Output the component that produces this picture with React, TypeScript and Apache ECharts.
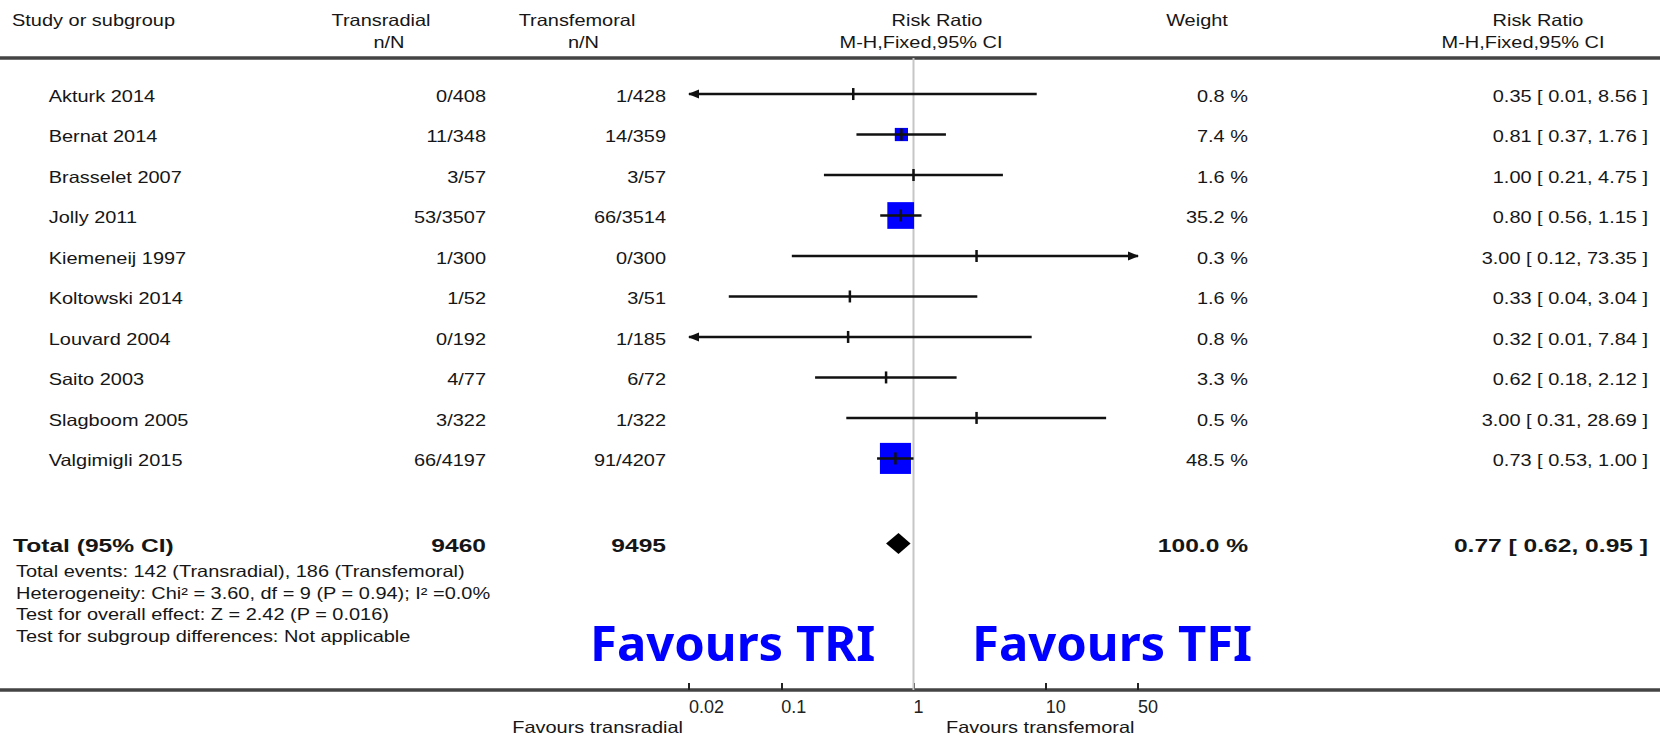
import { useEffect, useRef } from 'react';
import * as echarts from 'echarts';

// Study-level data (risk ratio, M-H fixed effect, 95% CI)
const STUDIES = [
  'Akturk 2014',
  'Bernat 2014',
  'Brasselet 2007',
  'Jolly 2011',
  'Kiemeneij 1997',
  'Koltowski 2014',
  'Louvard 2004',
  'Saito 2003',
  'Slagboom 2005',
  'Valgimigli 2015',
];
const TR_EVENTS = [0, 11, 3, 53, 1, 1, 0, 4, 3, 66];
const TR_TOTAL = [408, 348, 57, 3507, 300, 52, 192, 77, 322, 4197];
const TF_EVENTS = [1, 14, 3, 66, 0, 3, 1, 6, 1, 91];
const TF_TOTAL = [428, 359, 57, 3514, 300, 51, 185, 72, 322, 4207];
const WEIGHTS = [0.8, 7.4, 1.6, 35.2, 0.3, 1.6, 0.8, 3.3, 0.5, 48.5];
const RR = [0.35, 0.81, 1.0, 0.8, 3.0, 0.33, 0.32, 0.62, 3.0, 0.73];
const RR_LOW = [0.01, 0.37, 0.21, 0.56, 0.12, 0.04, 0.01, 0.18, 0.31, 0.53];
const RR_HIGH = [8.56, 1.76, 4.75, 1.15, 73.35, 3.04, 7.84, 2.12, 28.69, 1.0];

// Pooled result
const TOTAL_TR_N = 9460;
const TOTAL_TF_N = 9495;
const TOTAL_WEIGHT = 100.0;
const TOTAL_RR = 0.77;
const TOTAL_LOW = 0.62;
const TOTAL_HIGH = 0.95;

const FOOTNOTES = [
  'Total events: 142 (Transradial), 186 (Transfemoral)',
  'Heterogeneity: Chi² = 3.60, df = 9 (P = 0.94); I² =0.0%',
  'Test for overall effect: Z = 2.42 (P = 0.016)',
  'Test for subgroup differences: Not applicable',
];

// Axis
const AXIS_TICKS = [0.02, 0.1, 1, 10, 50];
const X_MIN = 0.02;
const X_MAX = 50;

// Layout
const W = 1660;
const H = 737;
const GRID_LEFT = 689;
const GRID_RIGHT_X = 1138;
const GRID_TOP = 58;
const GRID_BOTTOM_Y = 690;
const ROW_MIN = -0.89;
const ROW_MAX = 14.72;
const TOTAL_ROW = 11.1;
const BOX_MIN_WEIGHT = 5;

const FONT = '"Liberation Sans", Arial, Helvetica, sans-serif';
const TEXT_COLOR = '#161616';
const BODY_SIZE = 16.5;
const BODY_SX = 1.21;
const BOLD_SIZE = 18.5;
const BOLD_SX = 1.33;

const fmt2 = (v: number) => v.toFixed(2);
const ciText = (rr: number, lo: number, hi: number) =>
  `${fmt2(rr)} [ ${fmt2(lo)}, ${fmt2(hi)} ]`;

function txt(
  text: string,
  x: number,
  y: number,
  align: 'left' | 'right' | 'center',
  bold = false,
): any {
  return {
    type: 'text',
    x,
    y,
    scaleX: bold ? BOLD_SX : BODY_SX,
    silent: true,
    style: {
      text,
      fill: TEXT_COLOR,
      fontFamily: FONT,
      fontSize: bold ? BOLD_SIZE : BODY_SIZE,
      fontWeight: bold ? 'bold' : 'normal',
      align,
      verticalAlign: 'middle',
      textAlign: align,
      textVerticalAlign: 'middle',
    },
  };
}

function bigText(text: string, x: number, y: number): any {
  return {
    type: 'text',
    x,
    y,
    silent: true,
    style: {
      text,
      fill: '#0000ff',
      fontFamily: '"Noto Sans", "Noto Sans CJK KR", sans-serif',
      fontSize: 49,
      fontWeight: 'bold',
      align: 'left',
      verticalAlign: 'middle',
      textAlign: 'left',
      textVerticalAlign: 'middle',
    },
  };
}

export default function App() {
  const ref = useRef<HTMLDivElement>(null);

  useEffect(() => {
    if (!ref.current) return;
    const chart = echarts.init(ref.current, undefined, { renderer: 'svg' });

    const studyData = STUDIES.map((_, i) => [RR[i], RR_LOW[i], RR_HIGH[i], i, WEIGHTS[i]]);

    const option: any = {
      animation: false,
      backgroundColor: '#ffffff',
      grid: {
        left: GRID_LEFT,
        top: GRID_TOP,
        width: GRID_RIGHT_X - GRID_LEFT,
        height: GRID_BOTTOM_Y - GRID_TOP,
        containLabel: false,
      },
      xAxis: {
        type: 'log',
        logBase: 10,
        min: X_MIN,
        max: X_MAX,
        position: 'bottom',
        axisLine: { show: false, onZero: false },
        splitLine: { show: false },
        minorTick: { show: false },
        axisTick: {
          show: true,
          inside: true,
          length: 7,
          customValues: AXIS_TICKS,
          lineStyle: { color: '#222', width: 2 },
        },
        axisLabel: {
          show: true,
          customValues: AXIS_TICKS,
          formatter: (v: number) => String(v),
          align: 'left',
          margin: 8,
          color: '#222',
          fontFamily: FONT,
          fontSize: 18,
        },
      },
      yAxis: {
        type: 'value',
        inverse: true,
        min: ROW_MIN,
        max: ROW_MAX,
        show: false,
        axisLine: { onZero: false },
      },
      series: [
        {
          // line of no effect
          type: 'custom',
          name: 'no-effect',
          z: 1,
          clip: false,
          data: [[1]],
          encode: { x: 0 },
          renderItem: (params: any, api: any) => {
            const cs = params.coordSys;
            const x = api.coord([api.value(0), 0])[0];
            return {
              type: 'line',
              shape: { x1: x, y1: cs.y, x2: x, y2: cs.y + cs.height },
              style: { stroke: '#c6c6c6', lineWidth: 2 },
            };
          },
        },
        {
          type: 'custom',
          name: 'studies',
          z: 3,
          clip: false,
          data: studyData,
          encode: { x: 0, y: 3 },
          renderItem: (_params: any, api: any) => {
            const rr = api.value(0);
            const lo = api.value(1);
            const hi = api.value(2);
            const row = api.value(3);
            const w = api.value(4);
            const [px, py] = api.coord([rr, row]);
            const xl = api.coord([Math.max(lo, X_MIN), row])[0];
            const xh = api.coord([Math.min(hi, X_MAX), row])[0];
            const children: any[] = [];
            if (w >= BOX_MIN_WEIGHT) {
              const s = 4.2 * Math.sqrt(w) + 1.8;
              children.push({
                type: 'rect',
                shape: { x: px - s / 2, y: py - s / 2, width: s, height: s },
                style: { fill: '#0000ff' },
              });
            }
            children.push({
              type: 'line',
              shape: { x1: xl, y1: py, x2: xh, y2: py },
              style: { stroke: '#111', lineWidth: 2.5 },
            });
            if (lo < X_MIN) {
              children.push({
                type: 'polygon',
                shape: { points: [[xl - 1, py], [xl + 10, py - 4.5], [xl + 10, py + 4.5]] },
                style: { fill: '#111' },
              });
            }
            if (hi > X_MAX) {
              children.push({
                type: 'polygon',
                shape: { points: [[xh + 1, py], [xh - 10, py - 4.5], [xh - 10, py + 4.5]] },
                style: { fill: '#111' },
              });
            }
            children.push({
              type: 'line',
              shape: { x1: px, y1: py - 6, x2: px, y2: py + 6 },
              style: { stroke: '#111', lineWidth: 2.5 },
            });
            return { type: 'group', children };
          },
        },
        {
          type: 'custom',
          name: 'total',
          z: 3,
          clip: false,
          data: [[TOTAL_RR, TOTAL_LOW, TOTAL_HIGH, TOTAL_ROW]],
          encode: { x: 0, y: 3 },
          renderItem: (_params: any, api: any) => {
            const row = api.value(3);
            const [cx, cy] = api.coord([api.value(0), row]);
            const xl = api.coord([api.value(1), row])[0];
            const xh = api.coord([api.value(2), row])[0];
            const h = 10.5;
            return {
              type: 'polygon',
              shape: { points: [[xl, cy], [cx, cy - h], [xh, cy], [cx, cy + h]] },
              style: { fill: '#000' },
            };
          },
        },
      ],
    };

    chart.setOption(option);

    const rowY = (r: number) => chart.convertToPixel({ yAxisIndex: 0 }, r) as number;

    const X_NAME = 48.7;
    const X_TR = 486;
    const X_TF = 666;
    const X_WEIGHT = 1248;
    const X_CI = 1648;
    const HEAD1 = 20;
    const HEAD2 = 42;

    const els: any[] = [
      // separators
      {
        type: 'line',
        silent: true,
        shape: { x1: 0, y1: GRID_TOP, x2: W, y2: GRID_TOP },
        style: { stroke: '#444', lineWidth: 3.5 },
      },
      {
        type: 'line',
        silent: true,
        shape: { x1: 0, y1: GRID_BOTTOM_Y, x2: W, y2: GRID_BOTTOM_Y },
        style: { stroke: '#444', lineWidth: 3.5 },
      },
      // header
      txt('Study or subgroup', 12, HEAD1, 'left'),
      txt('Transradial', 381, HEAD1, 'center'),
      txt('n/N', 389, HEAD2, 'center'),
      txt('Transfemoral', 577, HEAD1, 'center'),
      txt('n/N', 583.5, HEAD2, 'center'),
      txt('Risk Ratio', 937, HEAD1, 'center'),
      txt('M-H,Fixed,95% CI', 921, HEAD2, 'center'),
      txt('Weight', 1197, HEAD1, 'center'),
      txt('Risk Ratio', 1538, HEAD1, 'center'),
      txt('M-H,Fixed,95% CI', 1523, HEAD2, 'center'),
    ];

    STUDIES.forEach((name, i) => {
      const y = rowY(i) + 2;
      els.push(txt(name, X_NAME, y, 'left'));
      els.push(txt(`${TR_EVENTS[i]}/${TR_TOTAL[i]}`, X_TR, y, 'right'));
      els.push(txt(`${TF_EVENTS[i]}/${TF_TOTAL[i]}`, X_TF, y, 'right'));
      els.push(txt(`${WEIGHTS[i].toFixed(1)} %`, X_WEIGHT, y, 'right'));
      els.push(txt(ciText(RR[i], RR_LOW[i], RR_HIGH[i]), X_CI, y, 'right'));
    });

    const ty = rowY(TOTAL_ROW) + 2;
    els.push(txt('Total (95% CI)', 13, ty, 'left', true));
    els.push(txt(String(TOTAL_TR_N), X_TR, ty, 'right', true));
    els.push(txt(String(TOTAL_TF_N), X_TF, ty, 'right', true));
    els.push(txt(`${TOTAL_WEIGHT.toFixed(1)} %`, X_WEIGHT, ty, 'right', true));
    els.push(txt(ciText(TOTAL_RR, TOTAL_LOW, TOTAL_HIGH), X_CI, ty, 'right', true));

    FOOTNOTES.forEach((line, i) => {
      els.push(txt(line, 16, 571 + i * 21.7, 'left'));
    });

    els.push(bigText('Favours TRI', 590, 642));
    els.push(bigText('Favours TFI', 972, 642));

    els.push(txt('Favours transradial', 683, 727, 'right'));
    els.push(txt('Favours transfemoral', 946, 727, 'left'));

    chart.setOption({ graphic: { elements: els } });

    return () => {
      chart.dispose();
    };
  }, []);

  return (
    <div
      ref={ref}
      style={{
        position: 'fixed',
        left: 0,
        top: 0,
        width: W,
        height: H,
        background: '#fff',
      }}
    />
  );
}
